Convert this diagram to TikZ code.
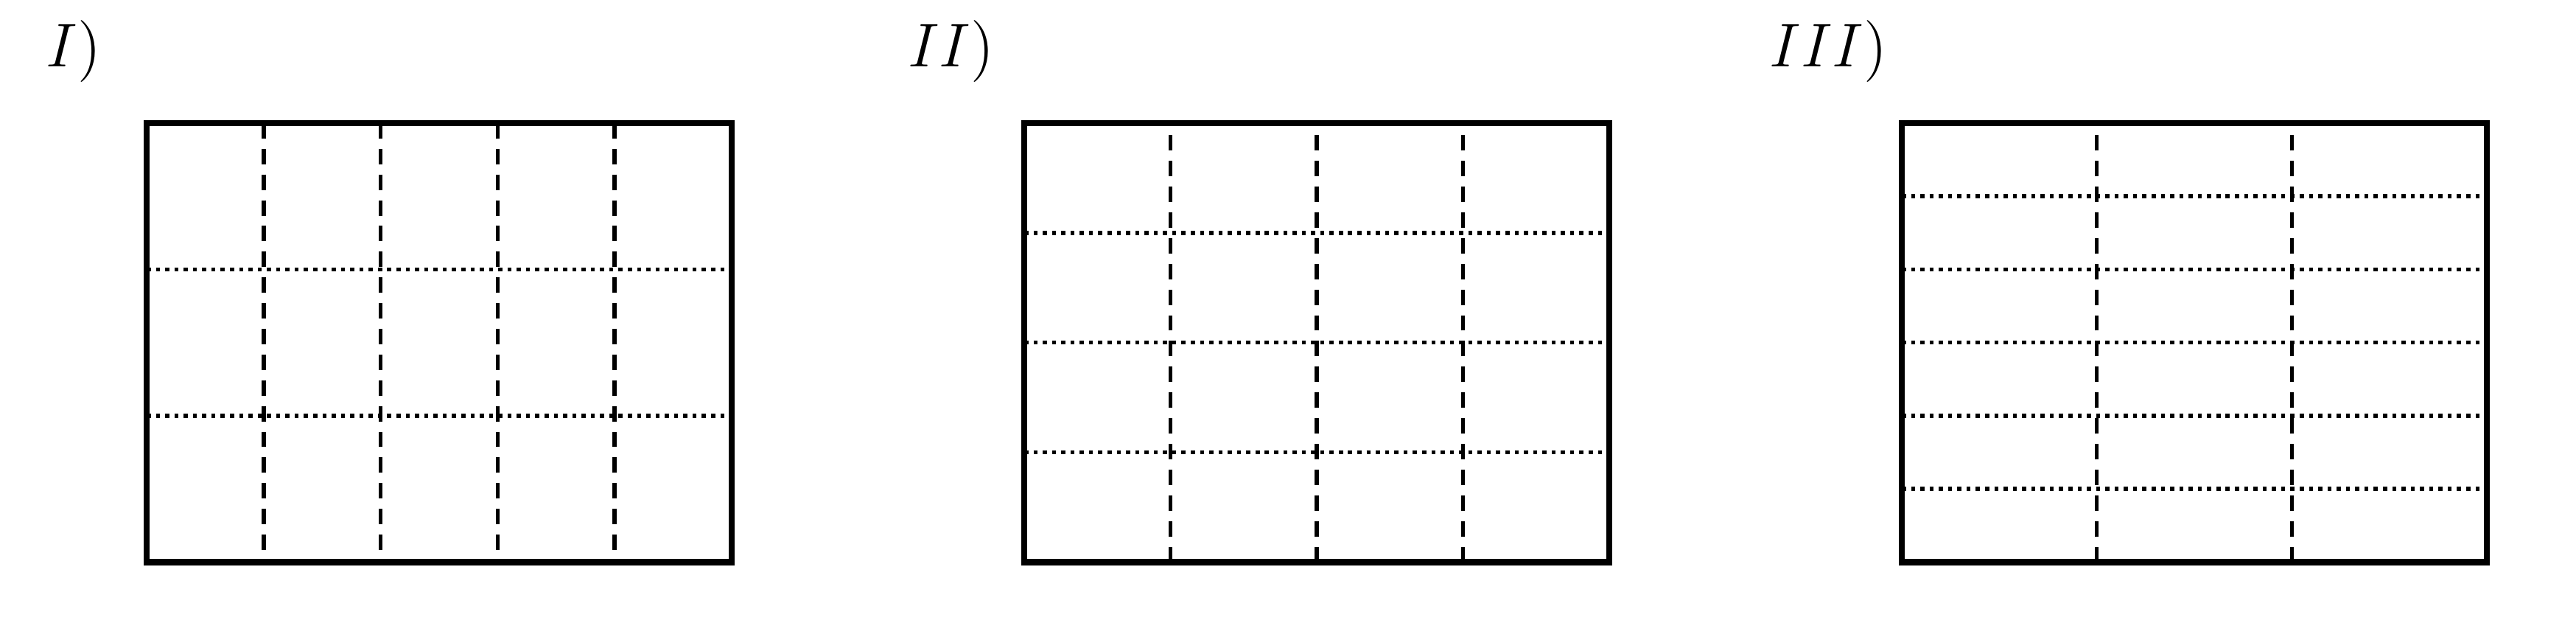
\documentclass[tikz,border=0pt]{standalone}
\begin{document}
\begin{tikzpicture}[
  frame/.style={very thick},
  vline/.style={thick, dash pattern=on 3pt off 2pt},
  hline/.style={thick, densely dotted},
  lab/.style={anchor=base, inner sep=0pt, font=\fontsize{12pt}{14pt}\selectfont}
]
\useasboundingbox (-1.0025,-0.411) rectangle (16.61,3.841);
% ---- I) : 5 x 3 grid
\foreach \x in {0.8,1.6,2.4,3.2} \draw[vline] (\x,3) -- (\x,0);
\foreach \y in {1,2} \draw[hline] (0,\y) -- (4,\y);
\draw[frame] (0,0) rectangle (4,3);
\node[lab] (lI) at (-0.5,3.383) {$I)$};
% ---- II) : 4 x 4 grid
\foreach \x in {7,8,9} \draw[vline] (\x,0) -- (\x,3);
\foreach \y in {0.75,1.5,2.25} \draw[hline] (6,\y) -- (10,\y);
\draw[frame] (6,0) rectangle (10,3);
\node[lab] (lII) at (5.5,3.383) {$II)$};
% ---- III) : 3 x 6 grid
\foreach \x in {13.3333,14.6667} \draw[vline] (\x,0) -- (\x,3);
\foreach \y in {0.5,1,1.5,2,2.5} \draw[hline] (12,\y) -- (16,\y);
\draw[frame] (12,0) rectangle (16,3);
\node[lab] (lIII) at (11.5,3.383) {$III)$};
\end{tikzpicture}
\end{document}
